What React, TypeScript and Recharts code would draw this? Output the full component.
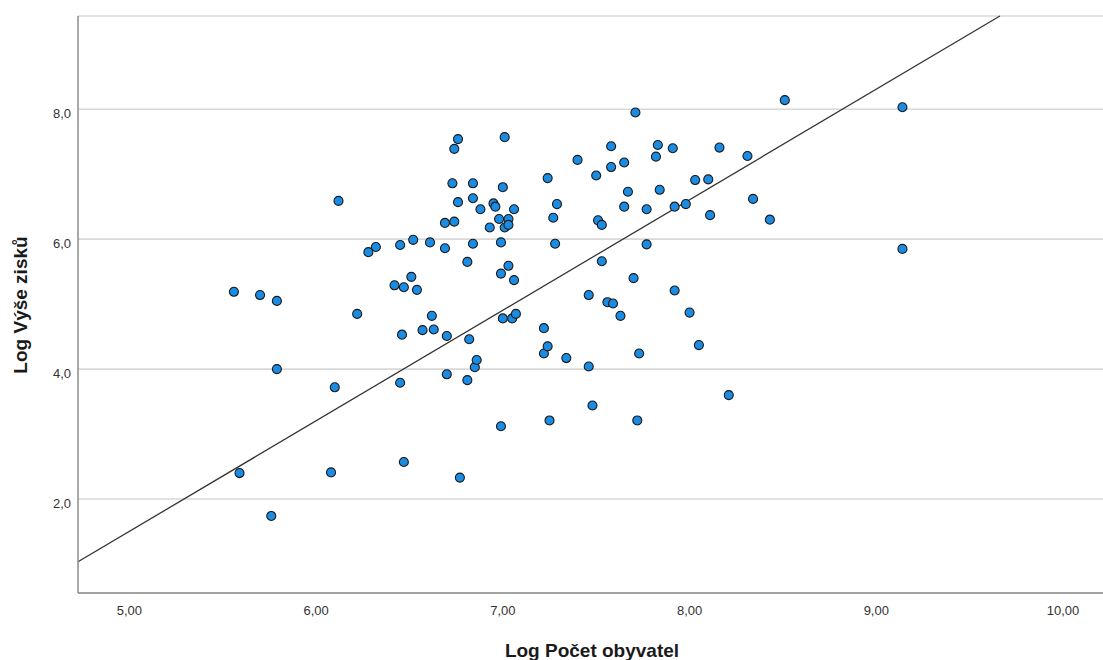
import { ScatterChart, Scatter, XAxis, YAxis, CartesianGrid, ReferenceLine } from 'recharts';

// Log population (x) and log profit (y), one entry per municipality
const logPopulation = [
  5.56, 5.70, 5.79, 5.79, 5.59, 5.76, 6.10, 6.08, 6.12, 6.22,
  6.28, 6.32, 6.42, 6.45, 6.47, 6.46, 6.45, 6.47, 6.51, 6.52,
  6.54, 6.57, 6.61, 6.62, 6.63, 6.70, 6.69, 6.74, 6.69, 6.70,
  6.74, 6.76, 6.73, 6.76, 6.77, 6.81, 6.81, 6.82, 6.84, 6.84,
  6.84, 6.85, 6.86, 6.88, 6.93, 6.95, 6.96, 6.98, 6.99, 6.99,
  6.99, 7.00, 7.00, 7.01, 7.01, 7.03, 7.03, 7.03, 7.05, 7.06,
  7.06, 7.07, 7.22, 7.22, 7.24, 7.24, 7.25, 7.27, 7.28, 7.29,
  7.34, 7.40, 7.46, 7.46, 7.48, 7.50, 7.51, 7.53, 7.53, 7.56,
  7.58, 7.58, 7.59, 7.63, 7.65, 7.65, 7.67, 7.70, 7.71, 7.72,
  7.73, 7.77, 7.77, 7.82, 7.83, 7.84, 7.91, 7.92, 7.92, 7.98,
  8.00, 8.03, 8.05, 8.10, 8.11, 8.16, 8.21, 8.31, 8.34, 8.43,
  8.51, 9.14, 9.14,
];

const logProfit = [
  5.19, 5.14, 5.05, 4.00, 2.40, 1.74, 3.72, 2.41, 6.59, 4.85,
  5.80, 5.88, 5.29, 5.91, 5.26, 4.53, 3.79, 2.57, 5.42, 5.99,
  5.22, 4.60, 5.95, 4.82, 4.61, 4.51, 6.25, 6.27, 5.86, 3.92,
  7.39, 7.54, 6.86, 6.57, 2.33, 5.65, 3.83, 4.46, 6.86, 6.63,
  5.93, 4.03, 4.14, 6.46, 6.18, 6.55, 6.50, 6.31, 5.95, 5.47,
  3.12, 6.80, 4.78, 7.57, 6.18, 6.31, 6.22, 5.59, 4.78, 6.46,
  5.37, 4.85, 4.63, 4.24, 4.35, 6.94, 3.21, 6.33, 5.93, 6.54,
  4.17, 7.22, 5.14, 4.04, 3.44, 6.98, 6.29, 6.22, 5.66, 5.03,
  7.43, 7.11, 5.01, 4.82, 7.18, 6.50, 6.73, 5.40, 7.95, 3.21,
  4.24, 5.92, 6.46, 7.27, 7.45, 6.76, 7.40, 6.50, 5.21, 6.54,
  4.87, 6.91, 4.37, 6.92, 6.37, 7.41, 3.60, 7.28, 6.62, 6.30,
  8.14, 8.03, 5.85,
];

// Fit line endpoints (x, y)
const fitX = [4.725, 9.662];
const fitY = [1.035, 9.435];

const xTicks = [5, 6, 7, 8, 9, 10];
const yTicks = [2, 4, 6, 8];

const points = logPopulation.map((x, i) => ({ x, y: logProfit[i] }));

const FONT = '"Liberation Sans", Arial, sans-serif';

const fmt = (v: number, digits: number) => v.toFixed(digits).replace('.', ',');

function XTick({ x, y, payload }: any) {
  return (
    <text x={x} y={y} textAnchor="middle" dominantBaseline="central" fontSize={13} fill="#333" fontFamily={FONT}>
      {fmt(payload.value, 2)}
    </text>
  );
}

function YTick({ x, y, payload }: any) {
  return (
    <text x={x} y={y + 4} textAnchor="end" dominantBaseline="central" fontSize={13} fill="#333" fontFamily={FONT}>
      {fmt(payload.value, 1)}
    </text>
  );
}

export default function App() {
  return (
    <div style={{ position: 'absolute', left: 0, top: 0, width: 1103, height: 660, background: '#fff' }}>
      <ScatterChart width={1103} height={660} margin={{ top: 16, right: 0, bottom: 0, left: 0 }}>
        <CartesianGrid vertical={false} stroke="#d8d8d8" strokeWidth={1.6} />
        <XAxis
          type="number"
          dataKey="x"
          domain={[4.725, 10.214]}
          allowDataOverflow
          ticks={xTicks}
          height={67}
          tickSize={0}
          tickMargin={17}
          tick={<XTick />}
          axisLine={{ stroke: '#8c8c8c', strokeWidth: 1.5 }}
          label={{
            content: () => (
              <text x={592} y={650} textAnchor="middle" dominantBaseline="central" fontSize={19} fontWeight="bold" fill="#1a1a1a" fontFamily={FONT}>
                Log Počet obyvatel
              </text>
            ),
          }}
        />
        <YAxis
          type="number"
          dataKey="y"
          domain={[0.554, 9.435]}
          allowDataOverflow
          ticks={yTicks}
          width={78}
          tickSize={0}
          tickMargin={7}
          tick={<YTick />}
          axisLine={{ stroke: '#8c8c8c', strokeWidth: 1.5 }}
          label={{
            content: () => (
              <text x={20} y={305} transform="rotate(-90 20 305)" textAnchor="middle" dominantBaseline="central" fontSize={19} fontWeight="bold" fill="#1a1a1a" fontFamily={FONT}>
                Log Výše zisků
              </text>
            ),
          }}
        />
        <ReferenceLine
          segment={[
            { x: fitX[0], y: fitY[0] },
            { x: fitX[1], y: fitY[1] },
          ]}
          stroke="#333"
          strokeWidth={1.3}
        />
        <Scatter data={points} fill="#1b8ce3" stroke="#1a1a1a" strokeWidth={1.1} isAnimationActive={false} />
      </ScatterChart>
    </div>
  );
}
